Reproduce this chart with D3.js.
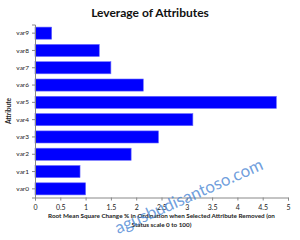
<!DOCTYPE html>
<html>
<head>
<meta charset="utf-8">
<script src="https://cdn.jsdelivr.net/npm/d3@7"></script>
<style>
  body { margin: 0; background: #fff; }
  text { font-family: Lato, 'Open Sans', sans-serif; }
</style>
</head>
<body>
<div id="chart"></div>
<script>
// attribute leverage values
var attributes = ['var0', 'var1', 'var2', 'var3', 'var4', 'var5', 'var6', 'var7', 'var8', 'var9']
var leverage = [1.0, 0.89, 1.9, 2.44, 3.12, 4.77, 2.14, 1.5, 1.27, 0.33]
var xTicks = [0, 0.5, 1, 1.5, 2, 2.5, 3, 3.5, 4, 4.5, 5]

var data = attributes.map(function (a, i) {
  return { name: a, value: leverage[i] }
})

var margin = { top: 24.5, right: 12, bottom: 42.5, left: 35 }
var width = 300 - margin.left - margin.right
var height = 240 - margin.top - margin.bottom

var root = d3.select('#chart').append('svg')
  .attr('width', 300)
  .attr('height', 240)

var svg = root.append('g')
  .attr('transform', 'translate(' + margin.left + ',' + margin.top + ')')

// x scale: leverage
var x = d3.scaleLinear().domain([0, 5]).range([0, 253])

// y scale: attributes, var0 at the bottom
var y = d3.scaleBand()
  .domain(attributes.slice().reverse())
  .range([0, height])
  .paddingInner(0.3)
  .paddingOuter(0.15)

// bars
svg.selectAll('.bar')
  .data(data)
  .enter()
  .append('rect')
  .attr('class', 'bar')
  .attr('x', 0)
  .attr('y', function (d) { return y(d.name) })
  .attr('width', function (d) { return x(d.value) })
  .attr('height', y.bandwidth())
  .style('fill', '#0000ff')
  .attr('stroke', '#6b6bff')
  .attr('stroke-width', 0.6)

// x axis
var xAxis = d3.axisBottom(x).tickValues(xTicks).tickSize(3).tickFormat(d3.format('~g'))
var gx = svg.append('g')
  .attr('transform', 'translate(0,' + height + ')')
  .call(xAxis)
gx.select('.domain').attr('stroke', '#888')
gx.selectAll('.tick line').attr('stroke', '#888')
gx.selectAll('text').attr('font-size', '7px').attr('fill', '#222').attr('dy', '0.9em')

// y axis
var yAxis = d3.axisLeft(y).tickSize(3)
var gy = svg.append('g').call(yAxis)
gy.select('.domain').attr('stroke', '#888')
gy.selectAll('.tick line').attr('stroke', '#888')
gy.selectAll('text').attr('font-size', '6.5px').attr('fill', '#222')

// title
root.append('text')
  .attr('x', 150)
  .attr('y', 17)
  .style('text-anchor', 'middle')
  .attr('font-size', '12px')
  .attr('font-weight', 'bold')
  .attr('fill', '#111')
  .text('Leverage of Attributes')

// x label (two lines)
var xl = root.append('text')
  .attr('x', margin.left + x(2.5))
  .attr('y', 218)
  .style('text-anchor', 'middle')
  .attr('font-size', '6.3px')
  .attr('font-weight', 'bold')
  .attr('fill', '#222')
xl.append('tspan').attr('x', margin.left + x(2.5)).text('Root Mean Square Change % in Ordination  when Selected Attribute Removed (on')
xl.append('tspan').attr('x', margin.left + x(2.5)).attr('dy', '1.4em').text('Status scale 0 to 100)')

// y label
root.append('text')
  .attr('transform', 'translate(11,' + (margin.top + height / 2) + ') rotate(-90)')
  .style('text-anchor', 'middle')
  .attr('font-size', '6.5px')
  .attr('font-weight', 'bold')
  .attr('fill', '#222')
  .text('Attribute')

// watermark
root.append('text')
  .attr('transform', 'translate(118,234) rotate(-24)')
  .attr('font-size', '17px')
  .attr('fill', '#4a86d4')
  .attr('fill-opacity', 0.8)
  .text('agusbudisantoso.com')
</script>
</body>
</html>
